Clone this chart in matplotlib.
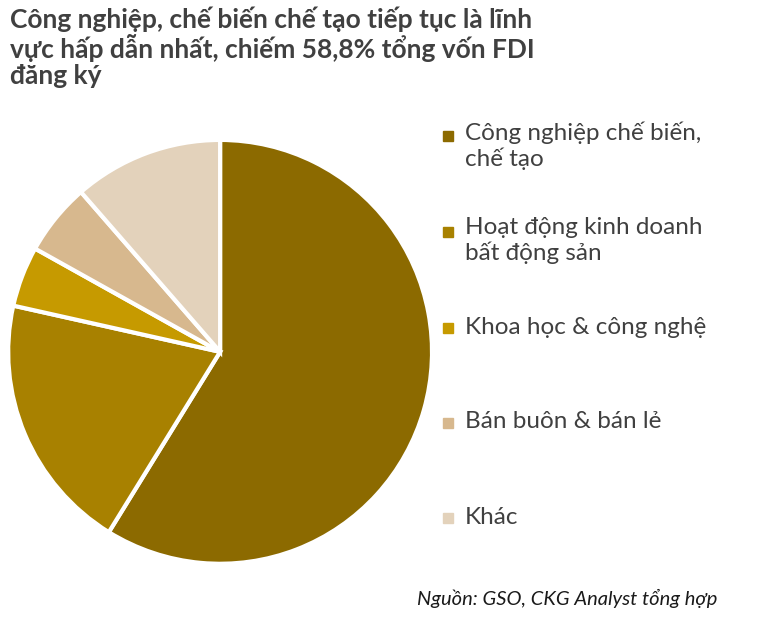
import matplotlib.pyplot as plt

plt.rcParams['font.family'] = ['Lato', 'DejaVu Sans']

labels = ["Công nghiệp chế biến,\nchế tạo", "Hoạt động kinh doanh\nbất động sản",
          "Khoa học & công nghệ", "Bán buôn & bán lẻ", "Khác"]
shares = [58.8, 19.7, 4.6, 5.5, 11.4]
colors = ["#8C6A00", "#A88100", "#C69A00", "#D7B88E", "#E3D2BB"]

fig = plt.figure(figsize=(7.59, 6.20), dpi=100)
ax = fig.add_axes([-0.059, 0.005, 0.698, 0.855])
ax.pie(shares, colors=colors, startangle=90, counterclock=False,
       wedgeprops=dict(edgecolor="white", linewidth=3))
ax.set_aspect("equal")

fig.text(0.013, 0.99, "Công nghiệp, chế biến chế tạo tiếp tục là lĩnh\nvực hấp dẫn nhất, chiếm 58,8% tổng vốn FDI\nđăng ký",
         ha="left", va="top", fontsize=19, fontweight="bold", color="#404040", linespacing=1.1)

ys_px = [135, 231, 327, 422, 517]
for lab, c, yp in zip(labels, colors, ys_px):
    fig.patches.append(plt.Rectangle((443 / 759, 1 - (yp + 6) / 620), 10 / 759, 10 / 620,
                                     transform=fig.transFigure, color=c))
    fig.text(465 / 759, 1 - yp / 620, lab, ha="left", va="center" if "\n" not in lab else "top",
             fontsize=17.5, color="#404040", linespacing=1.2)
    if "\n" in lab:
        fig.texts[-1].set_y(1 - (yp - 14) / 620)

fig.text(0.945, 0.035, "Nguồn: GSO, CKG Analyst tổng hợp", ha="right", va="center",
         fontsize=14.5, style="italic", color="#1a1a1a")
fig.savefig("out.png", dpi=100)
